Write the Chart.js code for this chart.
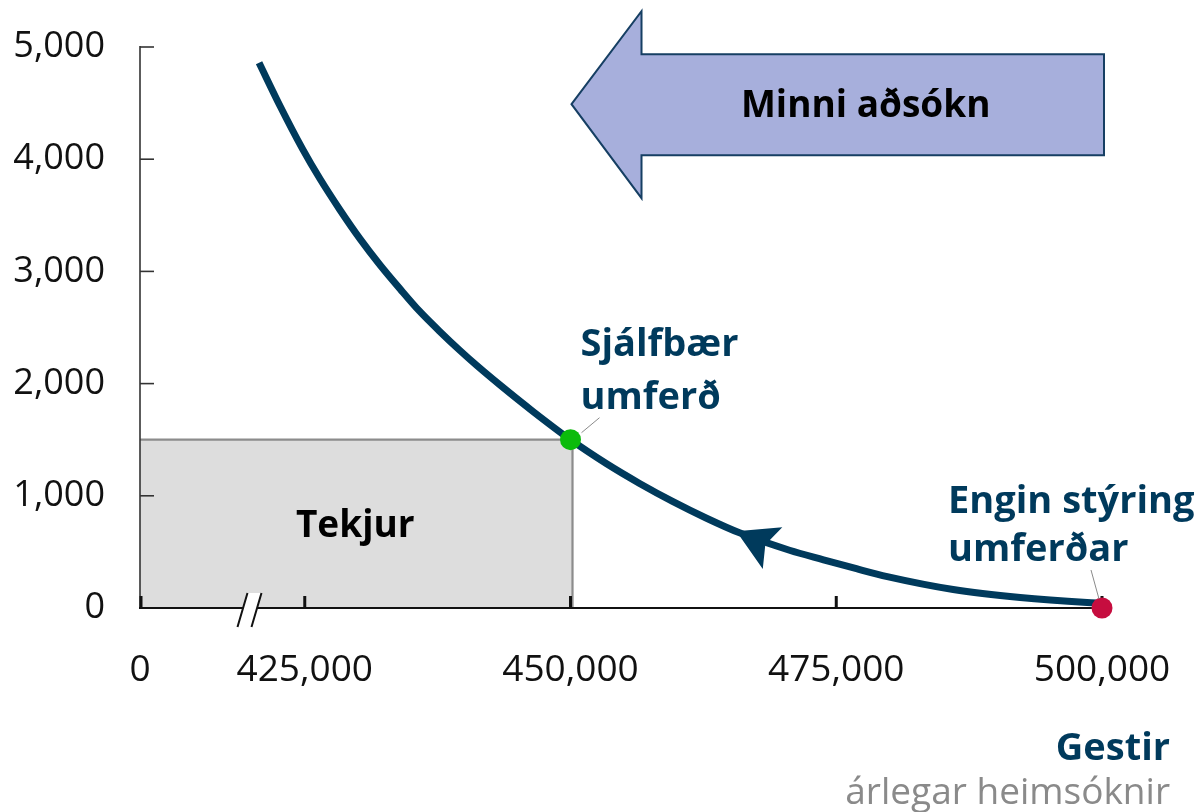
<!DOCTYPE html>
<html>
<head>
<meta charset="utf-8">
<script src="https://cdn.jsdelivr.net/npm/chart.js@4.4.1/dist/chart.umd.min.js"></script>
<style>
  html, body { margin: 0; padding: 0; background: #ffffff; overflow: hidden; }
  canvas { display: block; }
</style>
</head>
<body>
<canvas id="c" width="1201" height="812"></canvas>
<script>
// ---- data ----
const visitors = [420700, 422700, 424800, 426400, 428300, 430200, 432100, 434000, 435800, 437700, 439600, 441200,
                  443400, 446500, 450000, 453400, 456500, 459600, 462800, 465900, 470600, 473800, 476900, 479800,
                  486000, 492300, 498600, 500000];
const capacity = [4860, 4470, 4090, 3830, 3550, 3290, 3055, 2840, 2645, 2465, 2295, 2160,
                  1985, 1750, 1500, 1285, 1110, 950, 800, 670, 515, 430, 350, 280,
                  165, 93, 48, 42];
const xTickValues = [425000, 450000, 475000, 500000];
const yTickValues = [0, 1000, 2000, 3000, 4000, 5000];
const xAxisStart = 409500;          // shown as "0" (broken axis)
const xBreakAt = 419800;            // location of the axis break marks
const sustainable = { x: 450000, y: 1500 };   // Sjálfbær umferð
const unmanaged = { x: 500000, y: 0 };        // Engin stýring umferðar
const revenueBox = { x0: xAxisStart, x1: 450000, y0: 0, y1: 1500 };
const arrowTip = { x: 465600, y: 685 };       // direction arrow on the curve
const bigArrowY = 4490;                       // "Minni aðsókn" arrow centre line

const FONT = "'Open Sans', 'Noto Sans', sans-serif";
const NAVY = '#003a5c';

const pointsCurve = visitors.map((v, i) => ({ x: v, y: capacity[i] }));

const decorPlugin = {
  id: 'decor',
  beforeDatasetsDraw(chart) {
    const ctx = chart.ctx, xs = chart.scales.x, ys = chart.scales.y, ca = chart.chartArea;
    ctx.save();
    // revenue box
    const bx0 = xs.getPixelForValue(revenueBox.x0), bx1 = xs.getPixelForValue(revenueBox.x1);
    const by0 = ys.getPixelForValue(revenueBox.y0), by1 = ys.getPixelForValue(revenueBox.y1);
    ctx.fillStyle = '#dddddd';
    ctx.fillRect(bx0, by1, bx1 - bx0 + 2, by0 - by1);
    ctx.strokeStyle = '#8c8c8c';
    ctx.lineWidth = 2.2;
    ctx.beginPath();
    ctx.moveTo(bx0, by1); ctx.lineTo(bx1 + 2, by1); ctx.lineTo(bx1 + 2, by0);
    ctx.stroke();
    ctx.fillStyle = '#000';
    ctx.font = 'bold 37px ' + FONT;
    ctx.textAlign = 'center'; ctx.textBaseline = 'middle';
    ctx.fillText('Tekjur', (bx0 + bx1) / 2, (by0 + by1) / 2 + 3);

    // y axis line + ticks
    const y0 = ys.getPixelForValue(0);
    ctx.strokeStyle = '#333';
    ctx.lineWidth = 1.6;
    ctx.beginPath();
    ctx.moveTo(ca.left, ys.getPixelForValue(5000) - 1); ctx.lineTo(ca.left, y0);
    ctx.stroke();
    yTickValues.forEach(v => {
      if (v === 0) return;
      const py = ys.getPixelForValue(v);
      ctx.beginPath(); ctx.moveTo(ca.left, py); ctx.lineTo(ca.left + 14, py); ctx.stroke();
    });
    // x axis line + ticks
    ctx.strokeStyle = '#111';
    ctx.lineWidth = 2.2;
    ctx.beginPath();
    ctx.moveTo(ca.left - 1, y0); ctx.lineTo(xs.getPixelForValue(500000), y0);
    ctx.stroke();
    ctx.lineWidth = 3;
    [xAxisStart].concat(xTickValues).forEach(v => {
      const px = xs.getPixelForValue(v) + (v === xAxisStart ? 1 : 0);
      ctx.beginPath(); ctx.moveTo(px, y0); ctx.lineTo(px, y0 - 12); ctx.stroke();
    });
    // axis break
    const bk = xs.getPixelForValue(xBreakAt);
    ctx.fillStyle = '#fff';
    ctx.beginPath();
    ctx.moveTo(bk - 12, y0 + 19); ctx.lineTo(bk - 2, y0 - 15);
    ctx.lineTo(bk + 12, y0 - 15); ctx.lineTo(bk + 2, y0 + 19);
    ctx.closePath(); ctx.fill();
    ctx.strokeStyle = '#111'; ctx.lineWidth = 2;
    ctx.beginPath();
    ctx.moveTo(bk - 12, y0 + 19); ctx.lineTo(bk - 2, y0 - 15);
    ctx.moveTo(bk + 2, y0 + 19); ctx.lineTo(bk + 12, y0 - 15);
    ctx.stroke();
    ctx.restore();
  },
  afterDatasetsDraw(chart) {
    const ctx = chart.ctx, xs = chart.scales.x, ys = chart.scales.y;
    ctx.save();
    // arrowhead on the curve
    const tx = xs.getPixelForValue(arrowTip.x), ty = ys.getPixelForValue(arrowTip.y);
    const ia = visitors.findIndex(v => v > arrowTip.x);
    const ax = xs.getPixelForValue(visitors[ia]) - xs.getPixelForValue(visitors[ia - 2]);
    const ay = ys.getPixelForValue(capacity[ia]) - ys.getPixelForValue(capacity[ia - 2]);
    const len = Math.hypot(ax, ay);
    const dx = ax / len, dy = ay / len;
    const bcx = tx + dx * 40, bcy = ty + dy * 40;
    const nx = -dy, ny = dx;
    ctx.fillStyle = NAVY;
    ctx.beginPath();
    ctx.moveTo(tx, ty);
    ctx.lineTo(bcx + nx * 23, bcy + ny * 23);
    ctx.lineTo(bcx - dx * 8, bcy - dy * 8);
    ctx.lineTo(bcx - nx * 23, bcy - ny * 23);
    ctx.closePath(); ctx.fill();

    // big "Minni aðsókn" arrow
    const tipX = xs.getPixelForValue(sustainable.x) + 1;
    const cy = ys.getPixelForValue(bigArrowY);
    const rightX = xs.getPixelForValue(500000) + 2;
    const headX = tipX + 70;
    ctx.fillStyle = '#a7afdc';
    ctx.strokeStyle = '#163f63';
    ctx.lineWidth = 2;
    ctx.beginPath();
    ctx.moveTo(tipX, cy);
    ctx.lineTo(headX, cy - 93);
    ctx.lineTo(headX, cy - 50);
    ctx.lineTo(rightX, cy - 50);
    ctx.lineTo(rightX, cy + 51);
    ctx.lineTo(headX, cy + 51);
    ctx.lineTo(headX, cy + 94);
    ctx.closePath();
    ctx.fill(); ctx.stroke();
    ctx.fillStyle = '#000';
    ctx.font = 'bold 37px ' + FONT;
    ctx.textAlign = 'center'; ctx.textBaseline = 'middle';
    ctx.fillText('Minni aðsókn', (headX + rightX) / 2 - 7, cy + 2);

    // point labels + leader lines
    const sx = xs.getPixelForValue(sustainable.x), sy = ys.getPixelForValue(sustainable.y);
    const ux = xs.getPixelForValue(unmanaged.x), uy = ys.getPixelForValue(unmanaged.y);
    ctx.strokeStyle = '#8a8a8a'; ctx.lineWidth = 1;
    ctx.beginPath();
    ctx.moveTo(sx + 11, sy - 7); ctx.lineTo(sx + 29, sy - 22);
    ctx.moveTo(ux - 3, uy - 9); ctx.lineTo(ux - 11, uy - 38);
    ctx.stroke();
    ctx.fillStyle = NAVY;
    ctx.font = 'bold 38px ' + FONT;
    ctx.textAlign = 'left'; ctx.textBaseline = 'alphabetic';
    ctx.fillText('Sjálfbær', sx + 10, sy - 84);
    ctx.fillText('umferð', sx + 10, sy - 31);
    ctx.fillText('Engin stýring', ux - 154, uy - 95);
    ctx.fillText('umferðar', ux - 154, uy - 47);

    // axis title
    ctx.textAlign = 'right';
    ctx.fillText('Gestir', 1170, 760);
    ctx.fillStyle = '#8a8a8a';
    ctx.font = '37px ' + FONT;
    ctx.fillText('árlegar heimsóknir', 1170, 804);
    ctx.restore();
  }
};

new Chart(document.getElementById('c'), {
  type: 'scatter',
  data: {
    datasets: [
      { data: [sustainable], backgroundColor: '#0bbb0b', borderWidth: 0, pointRadius: 10.5, order: 0, clip: false },
      { data: [unmanaged], backgroundColor: '#c60d3f', borderWidth: 0, pointRadius: 10.5, order: 1, clip: false },
      { type: 'line', data: pointsCurve, borderColor: NAVY, borderWidth: 7, pointRadius: 0, clip: false,
        cubicInterpolationMode: 'monotone', borderCapStyle: 'butt', fill: false, order: 2 }
    ]
  },
  options: {
    responsive: false,
    animation: false,
    events: [],
    layout: { padding: { top: 47, right: 99, left: 0, bottom: 0 } },
    plugins: { legend: { display: false }, tooltip: { enabled: false } },
    scales: {
      x: {
        type: 'linear', min: xAxisStart, max: 500000,
        grid: { display: false, drawTicks: false }, border: { display: false },
        afterBuildTicks: s => { s.ticks = [xAxisStart].concat(xTickValues).map(v => ({ value: v })); },
        afterFit: s => { s.height = 204; s.paddingLeft = 0; s.paddingRight = 0; },
        ticks: {
          autoSkip: false, maxRotation: 0, padding: 40, color: '#111',
          font: { family: FONT, size: 37 },
          callback: v => v === xAxisStart ? '0' : v.toLocaleString('en-US')
        }
      },
      y: {
        min: 0, max: 5000,
        grid: { display: false, drawTicks: false }, border: { display: false },
        afterBuildTicks: s => { s.ticks = yTickValues.map(v => ({ value: v })); },
        afterFit: s => { s.width = 140; s.paddingTop = 0; s.paddingBottom = 0; },
        ticks: {
          padding: 35, color: '#111',
          font: { family: FONT, size: 36 },
          callback: v => v.toLocaleString('en-US')
        }
      }
    }
  },
  plugins: [decorPlugin]
});
</script>
</body>
</html>
